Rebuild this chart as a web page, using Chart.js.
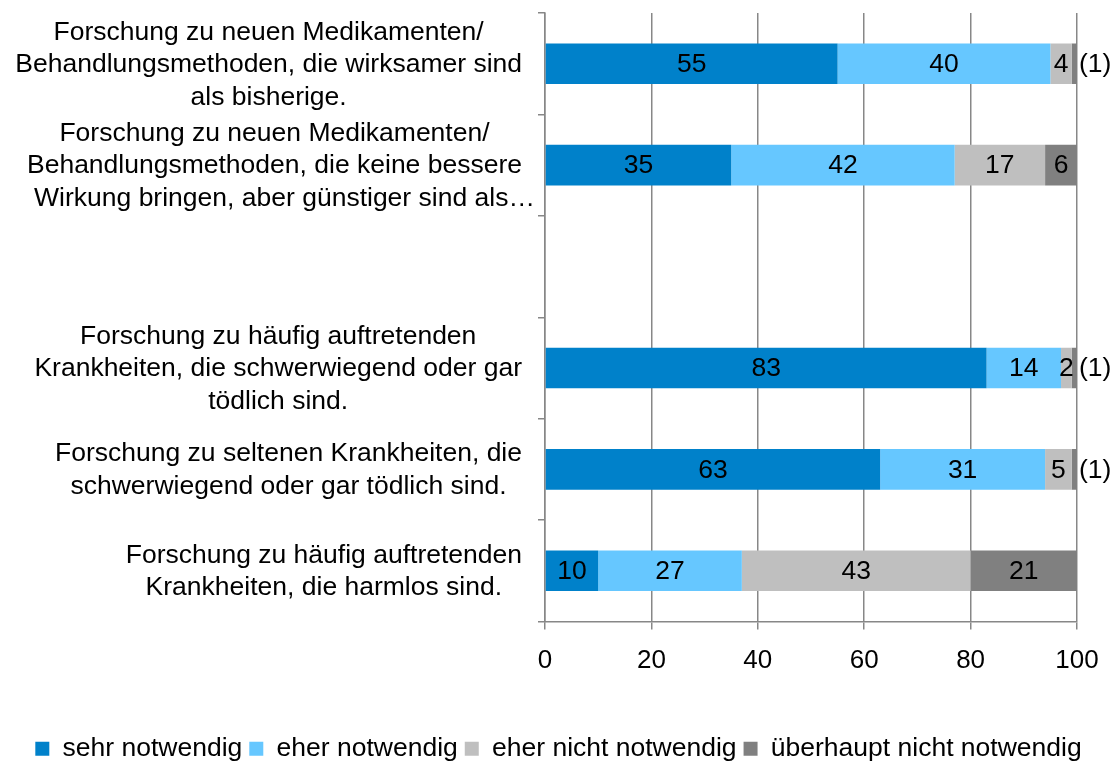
<!DOCTYPE html>
<html>
<head>
<meta charset="utf-8">
<script src="https://cdn.jsdelivr.net/npm/chart.js@4"></script>
<style>
    body { margin: 0; background: #fff; }
</style>
</head>
<body>
<canvas id="myChart" width="1117" height="765"></canvas>
<script>
const categories = [
    ["Forschung zu neuen Medikamenten/", "Behandlungsmethoden, die wirksamer sind", "als bisherige."],
    ["Forschung zu neuen Medikamenten/", "Behandlungsmethoden, die keine bessere", "Wirkung bringen, aber günstiger sind als…"],
    [""],
    ["Forschung zu häufig auftretenden", "Krankheiten, die schwerwiegend oder gar", "tödlich sind."],
    ["Forschung zu seltenen Krankheiten, die", "schwerwiegend oder gar tödlich sind."],
    ["Forschung zu häufig auftretenden", "Krankheiten, die harmlos sind."],
];
const sehrNotwendig = [55, 35, null, 83, 63, 10];
const eherNotwendig = [40, 42, null, 14, 31, 27];
const eherNichtNotwendig = [4, 17, null, 2, 5, 43];
const ueberhauptNicht = [1, 6, null, 1, 1, 21];
const xTicks = [0, 20, 40, 60, 80, 100];

const FONT = "'Liberation Sans', Arial, Helvetica, sans-serif";
const GRID = "#878787";

// zahlen in den balken, kleine werte als "(1)" rechts daneben
const barLabels = {
    id: "barLabels",
    afterDatasetsDraw(chart) {
        const ctx = chart.ctx;
        const right = chart.chartArea.right;
        ctx.save();
        ctx.font = `26.5px ${FONT}`;
        ctx.fillStyle = "#000";
        ctx.textBaseline = "middle";
        chart.data.datasets.forEach((ds, di) => {
            chart.getDatasetMeta(di).data.forEach((bar, i) => {
                const v = ds.data[i];
                if (v == null) return;
                const end = Math.min(bar.x, right);
                if (di === 3 && end - bar.base < 10) {
                    ctx.textAlign = "left";
                    ctx.fillText(`(${v})`, end + 2, bar.y + 1);
                } else {
                    ctx.textAlign = "center";
                    ctx.fillText(String(v), (end + bar.base) / 2, bar.y + 1);
                }
            });
        });
        ctx.restore();
    },
};

// kategorien: zeilen zentriert, block rechtsbündig
const catLabels = {
    id: "catLabels",
    afterDraw(chart) {
        const ctx = chart.ctx;
        const yScale = chart.scales.y;
        const right = 522;
        const lh = 32.5;
        ctx.save();
        ctx.font = `26.5px ${FONT}`;
        ctx.fillStyle = "#000";
        ctx.textBaseline = "middle";
        ctx.textAlign = "center";
        categories.forEach((lines, i) => {
            const w = lines
                .filter((l) => !l.endsWith("…"))
                .reduce((acc, l) => Math.max(acc, ctx.measureText(l).width), 0);
            const cx = right - w / 2;
            const yc = yScale.getPixelForValue(i);
            lines.forEach((l, k) => {
                const shift = l.endsWith("…") ? 10 : 0;
                ctx.fillText(l, cx + shift, yc + (k - (lines.length - 1) / 2) * lh + 1);
            });
        });
        ctx.restore();
    },
};

// legende etwas tiefer setzen
const legendShift = {
    id: "legendShift",
    afterLayout(chart) {
        chart.legend.top += 7;
        chart.legend.bottom += 7;
    },
};

function main() {
    const ctx = document.getElementById("myChart");

    const mk = (label, data, color) => ({
        label,
        data,
        backgroundColor: color,
        borderWidth: 0,
        barPercentage: 0.4,
        categoryPercentage: 1,
    });

    new Chart(ctx, {
        type: "bar",
        data: {
            labels: categories.map((_, i) => i),
            datasets: [
                mk("sehr notwendig", sehrNotwendig, "#0081CA"),
                mk("eher notwendig", eherNotwendig, "#66C7FF"),
                mk("eher nicht notwendig", eherNichtNotwendig, "#BFBFBF"),
                mk("überhaupt nicht notwendig", ueberhauptNicht, "#808080"),
            ],
        },
        options: {
            indexAxis: "y",
            responsive: false,
            animation: false,
            devicePixelRatio: 1,
            layout: {
                padding: { top: 13, right: 0, left: 0, bottom: 0 },
            },
            scales: {
                x: {
                    stacked: true,
                    min: 0,
                    max: 100,
                    afterBuildTicks: (scale) => {
                        scale.ticks = xTicks.map((v) => ({ value: v }));
                    },
                    ticks: {
                        color: "#000",
                        font: { family: FONT, size: 26 },
                        padding: 16,
                    },
                    grid: {
                        color: GRID,
                        lineWidth: 1.5,
                        tickLength: 8,
                    },
                    border: { color: GRID, width: 1.5 },
                    afterFit: (scale) => {
                        scale.height = 100;
                    },
                },
                y: {
                    stacked: true,
                    ticks: { display: false },
                    grid: {
                        offset: true,
                        drawOnChartArea: false,
                        color: GRID,
                        lineWidth: 1.5,
                        tickLength: 7,
                    },
                    border: { color: GRID, width: 1.5 },
                    afterFit: (scale) => {
                        scale.width = 545;
                    },
                },
                // platzhalter rechts, damit die legende ueber die ganze breite zentriert
                y2: {
                    type: "linear",
                    position: "right",
                    ticks: { display: false },
                    grid: { display: false },
                    border: { display: false },
                    afterFit: (scale) => {
                        scale.width = 40;
                    },
                },
            },
            plugins: {
                legend: {
                    position: "bottom",
                    labels: {
                        color: "#000",
                        font: { family: FONT, size: 26.5 },
                        boxWidth: 14,
                        boxHeight: 14,
                        padding: 7,
                    },
                },
                tooltip: { enabled: false },
            },
        },
        plugins: [barLabels, catLabels, legendShift],
    });
}

main();
</script>
</body>
</html>
